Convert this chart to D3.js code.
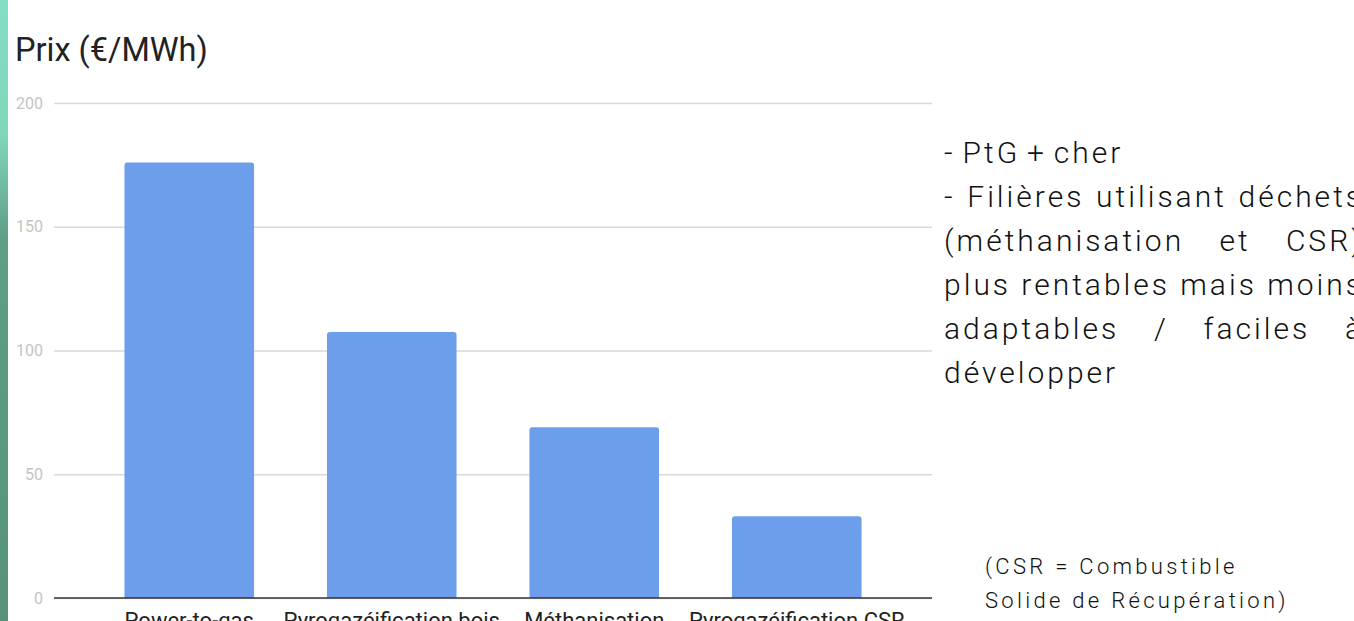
<!DOCTYPE html>
<html>
<head>
<meta charset="utf-8">
<script src="https://cdn.jsdelivr.net/npm/d3@7"></script>
<style>
  html, body { margin: 0; padding: 0; background: #fff; overflow: hidden; }
  #page { position: relative; width: 1354px; height: 621px; overflow: hidden; }
  .note {
    position: absolute;
    font-family: Roboto, "Liberation Sans", sans-serif;
    font-weight: 300;
    color: #111;
  }
</style>
</head>
<body>
<div id="page"></div>
<script>
const categories = ['Power-to-gas', 'Pyrogazéification bois', 'Méthanisation', 'Pyrogazéification CSR'];
const prices = [176, 107.5, 69, 33];
const yTicks = [0, 50, 100, 150, 200];

const width = 1354;
const height = 621;

const page = d3.select('#page');
const svg = page.append('svg')
  .attr('width', width)
  .attr('height', height)
  .style('position', 'absolute')
  .style('left', 0)
  .style('top', 0);

// green strip on the left edge
const grad = svg.append('defs').append('linearGradient')
  .attr('id', 'strip')
  .attr('x1', 0).attr('y1', 0).attr('x2', 0).attr('y2', 1);
grad.append('stop').attr('offset', '0%').attr('stop-color', '#84dec4');
grad.append('stop').attr('offset', '22%').attr('stop-color', '#7fd6bb');
grad.append('stop').attr('offset', '38%').attr('stop-color', '#5f9f86');
grad.append('stop').attr('offset', '100%').attr('stop-color', '#56937a');
svg.append('rect').attr('x', 0).attr('y', 0).attr('width', 8).attr('height', height).attr('fill', 'url(#strip)');

const x = d3.scaleBand()
  .domain(categories)
  .range([88, 898])
  .paddingInner(0.36)
  .paddingOuter(0.18);

const y = d3.scaleLinear()
  .domain([0, 200])
  .range([598, 103]);

// gridlines and tick labels
const yAxis = svg.append('g')
  .attr('transform', 'translate(54,0)')
  .call(d3.axisLeft(y).tickValues(yTicks).tickSize(-878).tickPadding(11));
yAxis.select('.domain').remove();
yAxis.selectAll('.tick line').attr('stroke', '#d9d9d9').attr('stroke-width', 1.3);
yAxis.selectAll('.tick text')
  .attr('fill', '#c4c4c4')
  .attr('font-family', 'Roboto, sans-serif')
  .attr('font-size', 16);

// bars
svg.append('g').selectAll('path')
  .data(prices)
  .join('path')
  .attr('fill', '#6d9eeb')
  .attr('d', (d, i) => {
    const x0 = x(categories[i]);
    const w = x.bandwidth();
    const top = y(d);
    const base = y(0);
    const r = 3;
    return `M${x0},${base}V${top + r}Q${x0},${top} ${x0 + r},${top}H${x0 + w - r}Q${x0 + w},${top} ${x0 + w},${top + r}V${base}Z`;
  });

// baseline
svg.append('line')
  .attr('x1', 54).attr('x2', 932)
  .attr('y1', y(0)).attr('y2', y(0))
  .attr('stroke', '#333').attr('stroke-width', 1.5);

// category labels (the reference crops them at the bottom edge)
const xAxis = svg.append('g')
  .attr('transform', `translate(0,${y(0)})`)
  .call(d3.axisBottom(x).tickSize(0).tickPadding(14));
xAxis.select('.domain').remove();
xAxis.selectAll('.tick text')
  .attr('fill', '#222')
  .attr('font-family', 'Roboto, sans-serif')
  .attr('font-size', 22);

// title
svg.append('text')
  .attr('x', 15).attr('y', 61)
  .attr('fill', '#222')
  .attr('font-family', 'Roboto, sans-serif')
  .attr('font-size', 32.5)
  .text('Prix (€/MWh)');

// side notes
page.append('div')
  .attr('class', 'note')
  .style('left', '944px')
  .style('top', '131px')
  .style('width', '420px')
  .style('font-size', '30px')
  .style('line-height', '44px')
  .style('letter-spacing', '3px')
  .style('word-spacing', '-3.5px')
  .style('text-align', 'justify')
  .html('- PtG + cher<br>- Filières utilisant déchets (méthanisation et CSR) plus rentables mais moins adaptables / faciles à développer');

page.append('div')
  .attr('class', 'note')
  .style('left', '985px')
  .style('top', '550px')
  .style('font-size', '22px')
  .style('line-height', '34px')
  .style('letter-spacing', '3.3px')
  .style('white-space', 'nowrap')
  .html('(CSR = Combustible<br>Solide de Récupération)');
</script>
</body>
</html>
